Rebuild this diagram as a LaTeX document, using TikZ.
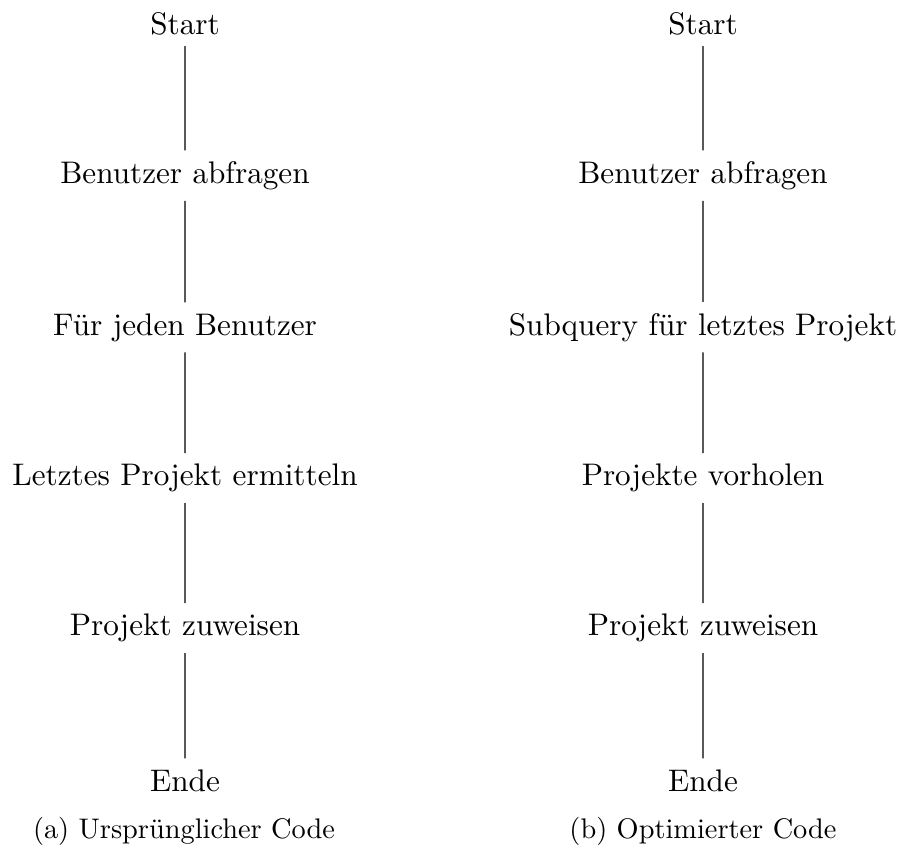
\documentclass[tikz,border=0pt]{standalone}
\begin{document}
\begin{tikzpicture}[x=0.3846pt,y=-0.3846pt,
  stepnode/.style={anchor=base,font=\fontsize{10}{12}\selectfont,scale=1.2,transform shape},
  capnode/.style={anchor=base,font=\fontsize{10}{12}\selectfont,scale=1.09,transform shape},
  link/.style={line width=0.4pt}]
\useasboundingbox (0,0) rectangle (901,850);
% left column
\node[stepnode] (a1) at (185,34.5) {Start};
\node[stepnode] (a2) at (185,183.5) {Benutzer abfragen};
\node[stepnode] (a3) at (185,335) {Für jeden Benutzer};
\node[stepnode] (a4) at (185,485.7) {Letztes Projekt ermitteln};
\node[stepnode] (a5) at (185,635.7) {Projekt zuweisen};
\node[stepnode] (a6) at (185,791) {Ende};
\node[capnode] (ca) at (184,838) {(a) Ursprünglicher Code};
\draw[link] (a1) -- (a2);
\draw[link] (a2) -- (a3);
\draw[link] (a3) -- (a4);
\draw[link] (a4) -- (a5);
\draw[link] (a5) -- (a6);
% right column
\node[stepnode] (b1) at (703,34.5) {Start};
\node[stepnode] (b2) at (703,183.5) {Benutzer abfragen};
\node[stepnode] (b3) at (703,335) {Subquery für letztes Projekt};
\node[stepnode] (b4) at (703,485.7) {Projekte vorholen};
\node[stepnode] (b5) at (703,635.7) {Projekt zuweisen};
\node[stepnode] (b6) at (703,791) {Ende};
\node[capnode] (cb) at (703,838) {(b) Optimierter Code};
\draw[link] (b1) -- (b2);
\draw[link] (b2) -- (b3);
\draw[link] (b3) -- (b4);
\draw[link] (b4) -- (b5);
\draw[link] (b5) -- (b6);
\end{tikzpicture}
\end{document}
